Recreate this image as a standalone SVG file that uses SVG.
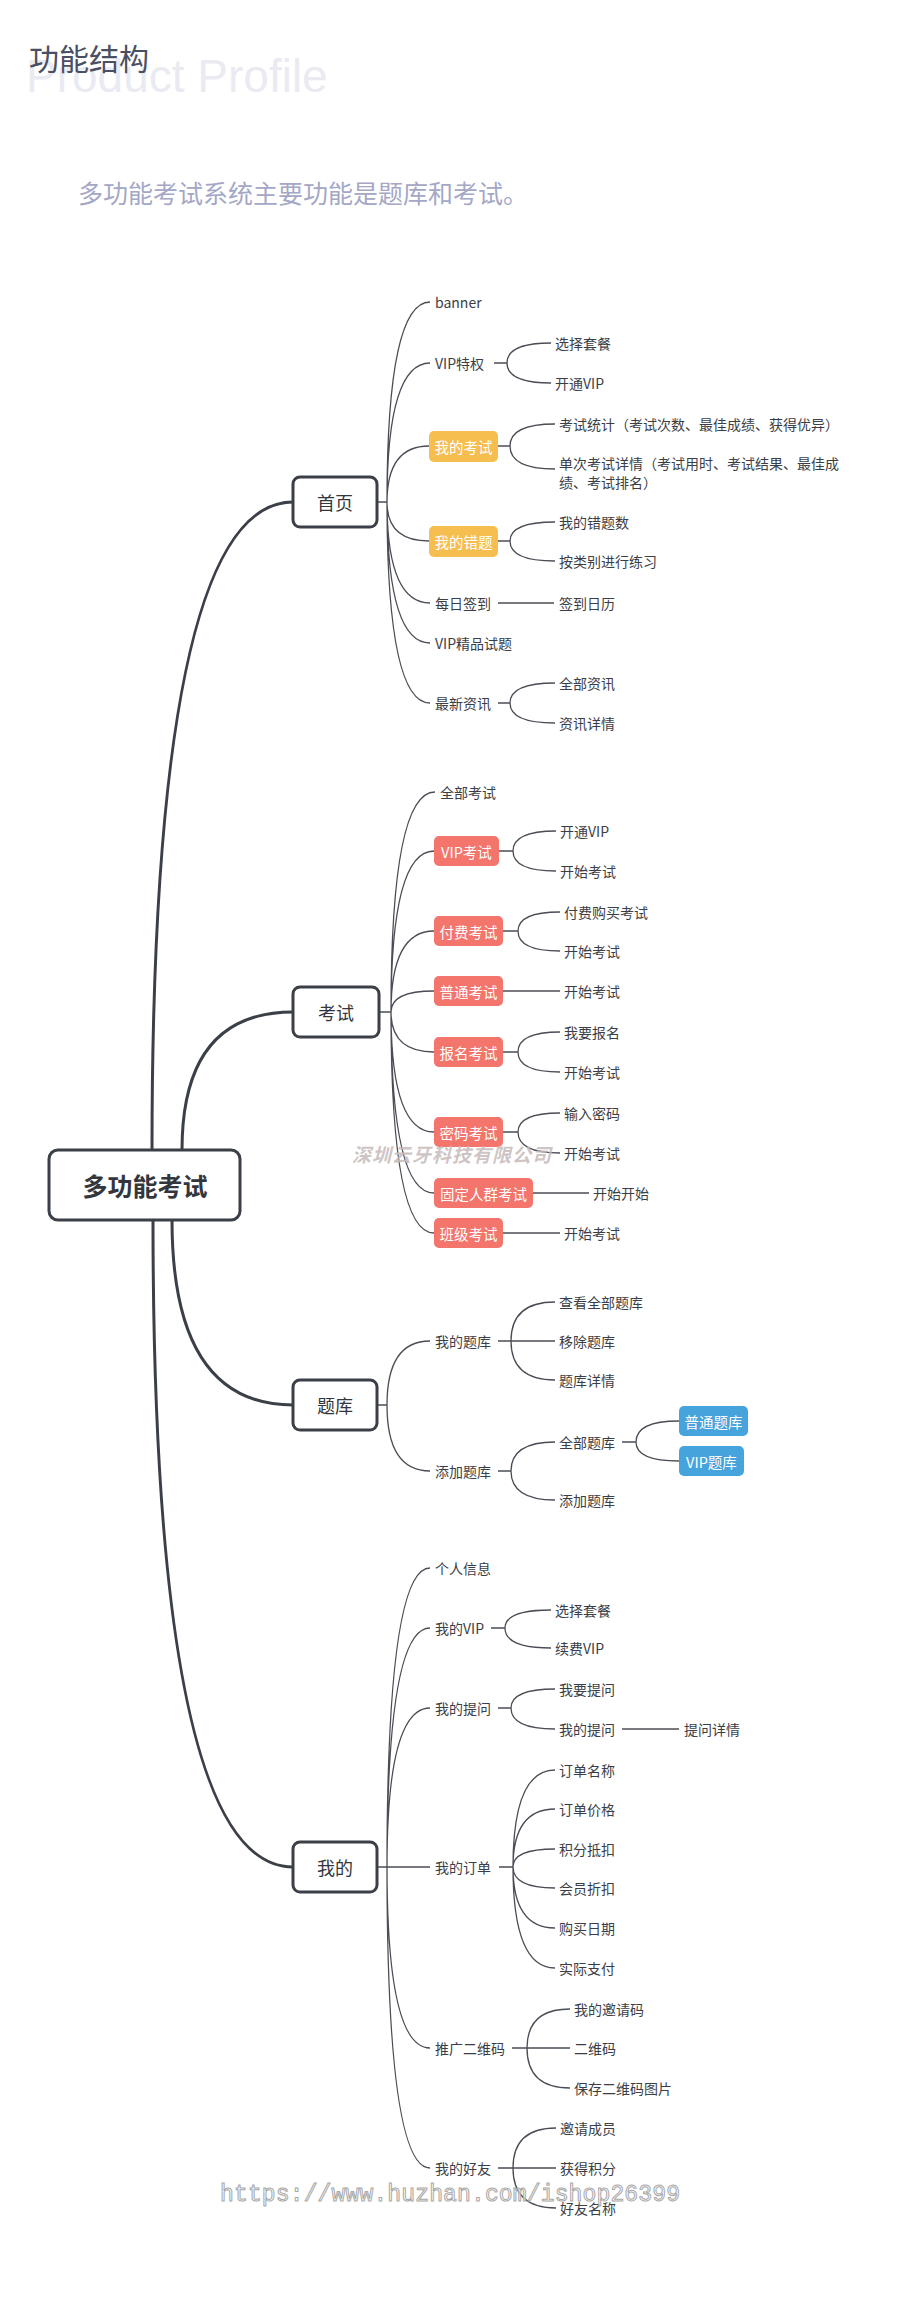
<svg xmlns="http://www.w3.org/2000/svg" width="900" height="2300" viewBox="0 0 900 2300">
<defs>
<radialGradient id="shade" cx="0.5" cy="0" r="0.6">
<stop offset="0" stop-color="#dcdce2" stop-opacity="0.8"/>
<stop offset="1" stop-color="#ffffff" stop-opacity="0"/>
</radialGradient>
<style>
.t{font-family:"Noto Sans CJK SC","Noto Sans",sans-serif;font-size:14px;fill:#3b3e46;dominant-baseline:central}
.w{font-family:"Noto Sans CJK SC","Noto Sans",sans-serif;font-size:14.5px;fill:#ffffff;dominant-baseline:central;text-anchor:middle}
.l1{font-family:"Noto Sans CJK SC","Noto Sans",sans-serif;font-size:18px;fill:#33363d;dominant-baseline:central;text-anchor:middle}
.box1{fill:#ffffff;stroke:#3b3f47;stroke-width:3}
.org{fill:#f6bd4f}
.red{fill:#f3756c}
.blue{fill:#46a3dc}
.thin{fill:none;stroke:#4a4d55;stroke-width:1.3}
.thick{fill:none;stroke:#3b3f47;stroke-width:3}
</style>
</defs>
<rect width="900" height="2300" fill="#ffffff"/>
<ellipse cx="820" cy="0" rx="220" ry="40" fill="url(#shade)"/>

<g id="header">
<text x="26" y="92" font-family="Liberation Sans, Arial, sans-serif" font-size="46" fill="#eaebf2">Product Profile</text>
<text x="29" y="70" font-family="Noto Sans CJK SC, sans-serif" font-size="30" fill="#4b4f63">功能结构</text>
<text x="78" y="192" font-family="Noto Sans CJK SC, sans-serif" font-size="25" fill="#a4a7c5" dominant-baseline="central">多功能考试系统主要功能是题库和考试。</text>
</g>

<g id="connectors">
<path class="thick" d="M152,1150 Q152,502 293,502"/>
<path class="thick" d="M182,1150 Q182,1012 293,1012"/>
<path class="thick" d="M172,1220 Q172,1405 293,1405"/>
<path class="thick" d="M153,1220 Q153,1867 293,1867"/>

<path class="thin" d="M377,502 H387 M387,502 Q387,302 430,302 M387,502 Q387,363 430,363 M387,502 Q387,446 429,446 M387,502 Q387,541 429,541 M387,502 Q387,603 430,603 M387,502 Q387,643 430,643 M387,502 Q387,703 430,703"/>
<path class="thin" d="M494,363 H507 M507,363 Q507,343 551,343 M507,363 Q507,383 551,383"/>
<path class="thin" d="M498,446 H510 M510,446 Q510,424 555,424 M510,446 Q510,469 555,469"/>
<path class="thin" d="M498,541 H510 M510,541 Q510,522 555,522 M510,541 Q510,561 555,561"/>
<path class="thin" d="M498,603 H554"/>
<path class="thin" d="M498,703 H510 M510,703 Q510,683 555,683 M510,703 Q510,723 555,723"/>

<path class="thin" d="M379,1012 H391 M391,1012 Q391,792 435,792 M391,1012 Q391,851 434,851 M391,1012 Q391,931 434,931 M391,1012 Q391,991 434,991 M391,1012 Q391,1052 434,1052 M391,1012 Q391,1132 434,1132 M391,1012 Q391,1193 434,1193 M391,1012 Q391,1233 434,1233"/>
<path class="thin" d="M499,851 H513 M513,851 Q513,831 556,831 M513,851 Q513,871 556,871"/>
<path class="thin" d="M503,931 H518 M518,931 Q518,912 560,912 M518,931 Q518,951 560,951"/>
<path class="thin" d="M503,991 H560"/>
<path class="thin" d="M503,1052 H518 M518,1052 Q518,1032 560,1032 M518,1052 Q518,1072 560,1072"/>
<path class="thin" d="M503,1132 H518 M518,1132 Q518,1113 560,1113 M518,1132 Q518,1153 560,1153"/>
<path class="thin" d="M533,1193 H589"/>
<path class="thin" d="M503,1233 H560"/>

<path class="thin" d="M377,1405 H387 M387,1405 Q387,1341 430,1341 M387,1405 Q387,1471 430,1471"/>
<path class="thin" d="M498,1341 H555 M511,1341 Q511,1302 555,1302 M511,1341 Q511,1380 555,1380"/>
<path class="thin" d="M498,1471 H511 M511,1471 Q511,1442 555,1442 M511,1471 Q511,1500 555,1500"/>
<path class="thin" d="M622,1442 H636 M636,1442 Q636,1421 679,1421 M636,1442 Q636,1461 679,1461"/>

<path class="thin" d="M377,1867 H430 M387,1867 Q387,1568 430,1568 M387,1867 Q387,1628 430,1628 M387,1867 Q387,1708 430,1708 M387,1867 Q387,2048 430,2048 M387,1867 Q387,2168 430,2168"/>
<path class="thin" d="M491,1628 H505 M505,1628 Q505,1610 551,1610 M505,1628 Q505,1648 551,1648"/>
<path class="thin" d="M498,1708 H511 M511,1708 Q511,1689 555,1689 M511,1708 Q511,1729 555,1729"/>
<path class="thin" d="M622,1729 H679"/>
<path class="thin" d="M499,1867 H513 M513,1867 Q513,1770 555,1770 M513,1867 Q513,1809 555,1809 M513,1867 Q513,1849 555,1849 M513,1867 Q513,1888 555,1888 M513,1867 Q513,1928 555,1928 M513,1867 Q513,1968 555,1968"/>
<path class="thin" d="M512,2048 H570 M527,2048 Q527,2009 570,2009 M527,2048 Q527,2088 570,2088"/>
<path class="thin" d="M498,2168 H556 M513,2168 Q513,2128 556,2128 M513,2168 Q513,2208 556,2208"/>
</g>

<g id="root">
<rect x="49" y="1150" width="191" height="70" rx="9" class="box1"/>
<text x="145" y="1185" font-family="Noto Sans CJK SC, sans-serif" font-size="25" font-weight="bold" fill="#33363d" text-anchor="middle" dominant-baseline="central">多功能考试</text>
</g>

<g id="n-home"><rect x="293" y="477" width="84" height="50" rx="7" class="box1"/><text x="335" y="502" class="l1">首页</text></g>
<g id="n-exam"><rect x="293" y="987" width="86" height="50" rx="7" class="box1"/><text x="336" y="1012" class="l1">考试</text></g>
<g id="n-bank"><rect x="293" y="1380" width="84" height="50" rx="7" class="box1"/><text x="335" y="1405" class="l1">题库</text></g>
<g id="n-mine"><rect x="293" y="1842" width="84" height="50" rx="7" class="box1"/><text x="335" y="1867" class="l1">我的</text></g>

<g id="home-children">
<g id="h-banner"><text x="435" y="302" class="t">banner</text></g>
<g id="h-vip"><text x="435" y="363" class="t">VIP特权</text></g>
<g id="h-vip-1"><text x="555" y="343" class="t">选择套餐</text></g>
<g id="h-vip-2"><text x="555" y="383" class="t">开通VIP</text></g>
<g id="h-myexam"><rect x="429" y="431" width="69" height="31" rx="5" class="org"/><text x="463.5" y="446.5" class="w">我的考试</text></g>
<g id="h-myexam-1"><text x="559" y="424" class="t">考试统计（考试次数、最佳成绩、获得优异）</text></g>
<g id="h-myexam-2"><text x="559" y="463" class="t">单次考试详情（考试用时、考试结果、最佳成<tspan x="559" y="482">绩、考试排名）</tspan></text></g>
<g id="h-wrong"><rect x="429" y="526" width="69" height="31" rx="5" class="org"/><text x="463.5" y="541.5" class="w">我的错题</text></g>
<g id="h-wrong-1"><text x="559" y="522" class="t">我的错题数</text></g>
<g id="h-wrong-2"><text x="559" y="561" class="t">按类别进行练习</text></g>
<g id="h-sign"><text x="435" y="603" class="t">每日签到</text></g>
<g id="h-sign-1"><text x="559" y="603" class="t">签到日历</text></g>
<g id="h-vipq"><text x="435" y="643" class="t">VIP精品试题</text></g>
<g id="h-news"><text x="435" y="703" class="t">最新资讯</text></g>
<g id="h-news-1"><text x="559" y="683" class="t">全部资讯</text></g>
<g id="h-news-2"><text x="559" y="723" class="t">资讯详情</text></g>
</g>

<g id="exam-children">
<g id="e-all"><text x="440" y="792" class="t">全部考试</text></g>
<g id="e-vip"><rect x="434" y="836" width="65" height="30" rx="5" class="red"/><text x="466.5" y="851" class="w">VIP考试</text></g>
<g id="e-vip-1"><text x="560" y="831" class="t">开通VIP</text></g>
<g id="e-vip-2"><text x="560" y="871" class="t">开始考试</text></g>
<g id="e-paid"><rect x="434" y="916" width="69" height="30" rx="5" class="red"/><text x="468.5" y="931" class="w">付费考试</text></g>
<g id="e-paid-1"><text x="564" y="912" class="t">付费购买考试</text></g>
<g id="e-paid-2"><text x="564" y="951" class="t">开始考试</text></g>
<g id="e-normal"><rect x="434" y="976" width="69" height="30" rx="5" class="red"/><text x="468.5" y="991" class="w">普通考试</text></g>
<g id="e-normal-1"><text x="564" y="991" class="t">开始考试</text></g>
<g id="e-signup"><rect x="434" y="1037" width="69" height="30" rx="5" class="red"/><text x="468.5" y="1052" class="w">报名考试</text></g>
<g id="e-signup-1"><text x="564" y="1032" class="t">我要报名</text></g>
<g id="e-signup-2"><text x="564" y="1072" class="t">开始考试</text></g>
<g id="e-pwd"><rect x="434" y="1117" width="69" height="30" rx="5" class="red"/><text x="468.5" y="1132" class="w">密码考试</text></g>
<g id="e-pwd-1"><text x="564" y="1113" class="t">输入密码</text></g>
<g id="e-pwd-2"><text x="564" y="1153" class="t">开始考试</text></g>
<g id="e-fixed"><rect x="434" y="1178" width="99" height="30" rx="5" class="red"/><text x="483.5" y="1193" class="w">固定人群考试</text></g>
<g id="e-fixed-1"><text x="593" y="1193" class="t">开始开始</text></g>
<g id="e-class"><rect x="434" y="1218" width="69" height="30" rx="5" class="red"/><text x="468.5" y="1233" class="w">班级考试</text></g>
<g id="e-class-1"><text x="564" y="1233" class="t">开始考试</text></g>
</g>

<g id="bank-children">
<g id="b-my"><text x="435" y="1341" class="t">我的题库</text></g>
<g id="b-my-1"><text x="559" y="1302" class="t">查看全部题库</text></g>
<g id="b-my-2"><text x="559" y="1341" class="t">移除题库</text></g>
<g id="b-my-3"><text x="559" y="1380" class="t">题库详情</text></g>
<g id="b-add"><text x="435" y="1471" class="t">添加题库</text></g>
<g id="b-add-1"><text x="559" y="1442" class="t">全部题库</text></g>
<g id="b-add-2"><text x="559" y="1500" class="t">添加题库</text></g>
<g id="b-normal"><rect x="679" y="1406" width="69" height="30" rx="5" class="blue"/><text x="713.5" y="1421" class="w">普通题库</text></g>
<g id="b-vip"><rect x="679" y="1446" width="65" height="30" rx="5" class="blue"/><text x="711.5" y="1461" class="w">VIP题库</text></g>
</g>

<g id="mine-children">
<g id="m-info"><text x="435" y="1568" class="t">个人信息</text></g>
<g id="m-vip"><text x="435" y="1628" class="t">我的VIP</text></g>
<g id="m-vip-1"><text x="555" y="1610" class="t">选择套餐</text></g>
<g id="m-vip-2"><text x="555" y="1648" class="t">续费VIP</text></g>
<g id="m-q"><text x="435" y="1708" class="t">我的提问</text></g>
<g id="m-q-1"><text x="559" y="1689" class="t">我要提问</text></g>
<g id="m-q-2"><text x="559" y="1729" class="t">我的提问</text></g>
<g id="m-q-3"><text x="684" y="1729" class="t">提问详情</text></g>
<g id="m-order"><text x="435" y="1867" class="t">我的订单</text></g>
<g id="m-order-1"><text x="559" y="1770" class="t">订单名称</text></g>
<g id="m-order-2"><text x="559" y="1809" class="t">订单价格</text></g>
<g id="m-order-3"><text x="559" y="1849" class="t">积分抵扣</text></g>
<g id="m-order-4"><text x="559" y="1888" class="t">会员折扣</text></g>
<g id="m-order-5"><text x="559" y="1928" class="t">购买日期</text></g>
<g id="m-order-6"><text x="559" y="1968" class="t">实际支付</text></g>
<g id="m-qr"><text x="435" y="2048" class="t">推广二维码</text></g>
<g id="m-qr-1"><text x="574" y="2009" class="t">我的邀请码</text></g>
<g id="m-qr-2"><text x="574" y="2048" class="t">二维码</text></g>
<g id="m-qr-3"><text x="574" y="2088" class="t">保存二维码图片</text></g>
<g id="m-friend"><text x="435" y="2168" class="t">我的好友</text></g>
<g id="m-friend-1"><text x="560" y="2128" class="t">邀请成员</text></g>
<g id="m-friend-2"><text x="560" y="2168" class="t">获得积分</text></g>
<g id="m-friend-3"><text x="560" y="2208" class="t">好友名称</text></g>
</g>

<g id="watermarks">
<text x="352" y="1153" font-family="Noto Sans CJK SC, sans-serif" font-size="19" font-style="italic" font-weight="bold" letter-spacing="1" fill="#c6baba" fill-opacity="0.85" dominant-baseline="central">深圳云牙科技有限公司</text>
<text x="220" y="2195" font-family="Liberation Mono, monospace" font-size="23" fill="#ffffff" fill-opacity="0.7" stroke="#a8a8a8" stroke-width="1" textLength="460" dominant-baseline="central">https://www.huzhan.com/ishop26399</text>
</g>
</svg>
